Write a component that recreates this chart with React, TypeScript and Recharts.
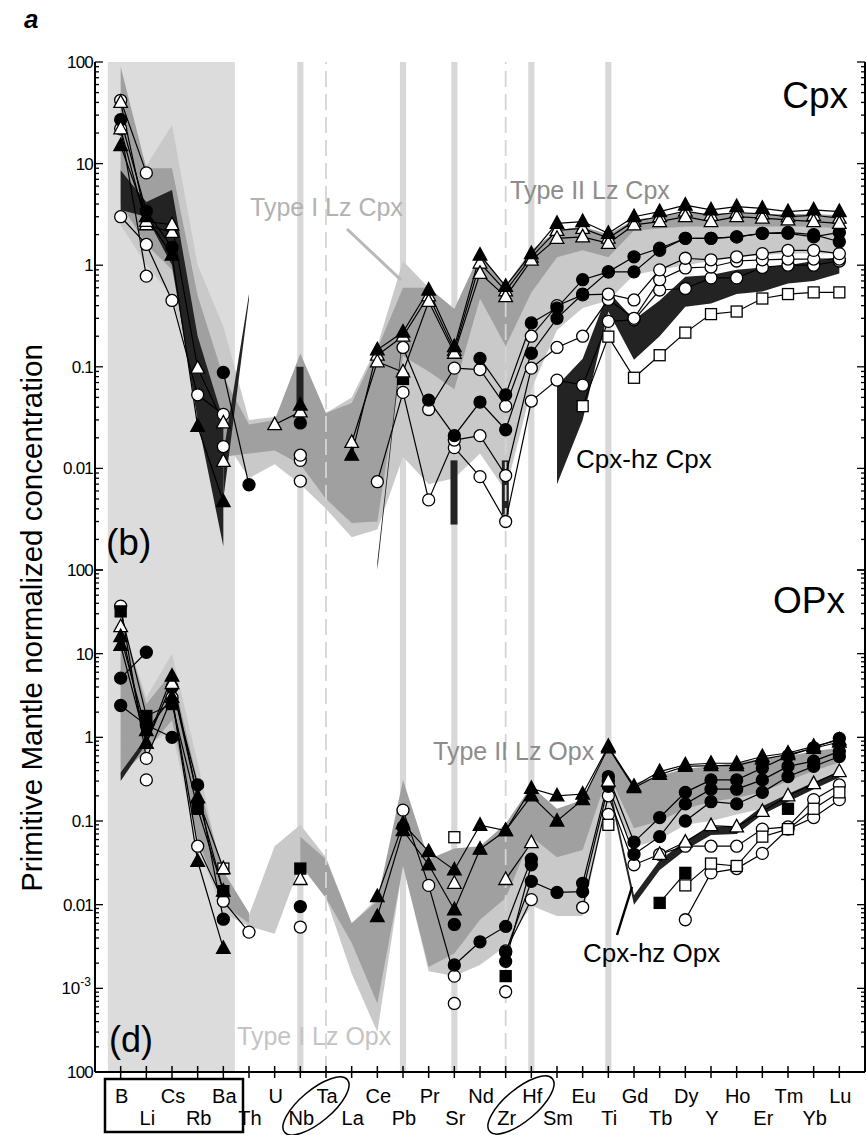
import React from 'react'
import { Area, Bar, ComposedChart, Line, ReferenceArea, ReferenceLine, XAxis, YAxis } from 'recharts'

const _ = null

const ELEMENTS = ['B', 'Li', 'Cs', 'Rb', 'Ba', 'Th', 'U', 'Nb', 'Ta', 'La', 'Ce', 'Pb', 'Pr', 'Sr', 'Nd', 'Zr', 'Hf', 'Sm', 'Eu', 'Ti', 'Gd', 'Tb', 'Dy', 'Y', 'Ho', 'Er', 'Tm', 'Yb', 'Lu']
const BAND_ELEMENTS = ['Nb', 'Pb', 'Sr', 'Hf', 'Ti']
const DASHED_ELEMENTS = ['Ta', 'Zr']

type Range = [number, number] | null
type Val = number | null

// ---- (b) Cpx panel: fields [low, high] ----
const cpxType1Field: Range[] = [[2.5, 40], [1.0, 9.5], [0.5, 24], [0.06, 1.0], [0.02, 0.25], [0.008, 0.03], [0.011, 0.032], [0.007, 0.05], [0.004, 0.035], [0.0021, 0.05], [0.0025, 0.16], [0.013, 1.1], [0.007, 0.6], [0.008, 0.37], [0.014, 1.3], [0.006, 0.63], [0.06, 1.4], [0.23, 2.2], [0.38, 2.4], [0.45, 2.0], [0.8, 2.8], [0.9, 3.0], [1.0, 3.2], [1.1, 3.2], [1.2, 3.2], [1.25, 3.2], [1.3, 3.2], [1.3, 3.1], [1.3, 3.0]]
const cpxType2Field: Range[] = [[4, 90], [1.6, 9], [0.9, 9], [0.05, 0.5], [0.013, 0.08], [0.014, 0.027], [0.015, 0.03], [0.011, 0.135], [0.005, 0.035], [0.0029, 0.044], [0.003, 0.15], [0.128, 0.6], [0.09, 0.6], [0.06, 0.37], [0.47, 1.3], [0.16, 0.63], [0.54, 1.4], [1.2, 2.2], [1.4, 2.4], [1.2, 2.0], [2.2, 2.8], [2.3, 3.0], [2.4, 3.3], [2.4, 3.2], [2.4, 3.3], [2.4, 3.2], [2.4, 3.2], [2.4, 3.2], [2.3, 3.1]]
const cpxHzField: Range[] = [[3.5, 8.6], [3.0, 4.2], [1.0, 5.5], [0.03, 0.2], [0.0017, 0.03], _, _, _, _, _, _, _, _, _, _, _, _, [0.007, 0.065], [0.03, 0.12], [0.35, 0.55], [0.117, 0.29], [0.2, 0.45], [0.39, 0.77], [0.42, 0.8], [0.52, 0.9], [0.55, 0.95], [0.66, 1.0], [0.7, 1.1], [0.83, 1.2]]
const cpxHzSpike: Range[] = [_, _, _, _, [0.005, 0.014], [0.46, 0.52], _, _, _, _, [0.001, 0.0012], [0.2, 0.23], _, _, _, _, _, _, _, _, _, _, _, _, _, _, _, _, _]
// single-element Cpx-hz ranges drawn as short bars
const cpxHzBar: Range[] = [_, _, _, _, _, _, _, [0.04, 0.1], _, _, _, _, _, [0.0028, 0.012], _, [0.0035, 0.012], _, _, _, _, _, _, _, _, _, _, _, _, _]

// ---- (b) Cpx panel: samples ----
const cpxFilledTri: Val[] = [15, 3.0, 1.26, 0.026, 0.0047, _, _, 0.042, _, 0.0135, 0.147, 0.22, 0.57, 0.158, 1.26, 0.62, 1.3, 2.58, 2.69, 2.06, 3.0, 3.37, 3.9, 3.5, 3.77, 3.63, 3.37, 3.5, 3.37]
const cpxOpenTriA: Val[] = [40, 2.7, 2.5, 0.097, 0.028, _, 0.027, 0.036, _, 0.018, 0.112, 0.089, 0.44, 0.136, 0.83, 0.49, 1.12, 1.84, 1.9, 1.64, 2.49, 2.69, 3.0, 2.69, 3.0, 2.9, 2.79, 2.69, 2.58]
const cpxOpenTriB: Val[] = [22, 2.5, 2.1, _, 0.0117, _, _, _, _, _, 0.13, 0.2, 0.5, 0.145, 1.05, 0.56, 1.2, 2.2, 2.3, 1.85, 2.7, 3.0, 3.4, 3.1, 3.3, 3.2, 3.0, 3.1, 2.9]
const cpxFilledCircA: Val[] = [27, 3.4, 1.5, _, 0.088, 0.0069, _, 0.028, _, _, _, _, 0.047, 0.021, 0.045, 0.024, 0.136, 0.3, 0.52, 0.86, 0.86, 1.4, 1.84, 1.84, 1.9, 2.06, 2.1, 2.0, 1.7]
const cpxFilledCircB: Val[] = [_, _, _, _, _, _, _, _, _, _, _, _, _, _, 0.121, 0.053, 0.27, 0.38, 0.72, 0.86, 1.21, 1.47, 1.84, 1.84, 1.9, 2.06, 2.06, 1.9, 2.1]
const cpxOpenCircA: Val[] = [42, 8.1, _, _, _, _, _, 0.0075, _, _, _, 0.155, 0.038, 0.097, 0.094, 0.041, 0.2, 0.4, 0.51, 0.52, 0.455, 0.9, 1.17, 1.13, 1.21, 1.3, 1.4, 1.4, 1.3]
const cpxOpenCircB: Val[] = [3.0, 1.6, 0.45, 0.053, 0.034, _, _, 0.0135, _, _, 0.0074, 0.056, 0.0049, 0.019, 0.021, 0.0085, 0.097, 0.155, 0.2, 0.46, 0.3, 0.72, 0.94, 0.96, 1.1, 1.13, 1.15, 1.15, 1.15]
const cpxOpenCircC: Val[] = [22, 0.78, _, _, 0.0164, _, _, 0.012, _, _, _, _, _, 0.016, 0.0083, 0.003, 0.046, 0.074, 0.066, 0.28, 0.29, 0.57, 0.59, 0.75, 0.75, 0.95, 1.0, 1.0, 1.1]
const cpxOpenSq: Val[] = [_, _, _, _, _, _, _, _, _, _, _, _, _, _, _, _, _, _, 0.041, 0.198, 0.078, 0.13, 0.217, 0.33, 0.35, 0.47, 0.52, 0.54, 0.54]
const cpxFilledSq: Val[] = [_, _, _, _, _, _, _, _, _, _, _, 0.076, _, _, _, _, _, _, _, _, _, _, _, _, _, _, _, _, _]

// ---- (d) Opx panel: fields ----
const opxType1Field: Range[] = [[0.4, 25], [0.8, 3.0], [1.2, 10], [0.05, 0.5], [0.008, 0.02], [0.0055, 0.0075], [0.0045, 0.05], [0.03, 0.09], [0.012, 0.037], [0.0015, 0.006], [0.0003, 0.012], [0.03, 0.2], [0.0016, 0.03], [0.0014, 0.03], [0.0019, 0.04], [0.0032, 0.05], [0.0097, 0.1], [0.0073, 0.06], [0.0073, 0.08], [0.2, 0.5], [0.049, 0.1], [0.06, 0.15], [0.09, 0.2], [0.1, 0.25], [0.12, 0.3], [0.14, 0.35], [0.18, 0.4], [0.25, 0.5], [0.33, 0.55]]
const opxType2Field: Range[] = [[0.35, 28], [0.7, 2.5], [1.6, 6], [0.06, 0.3], [0.01, 0.025], [0.006, 0.008], _, [0.03, 0.065], [0.012, 0.035], [0.0035, 0.006], [0.00066, 0.011], [0.029, 0.31], [0.0018, 0.035], [0.0026, 0.047], [0.0066, 0.05], [0.012, 0.093], [0.065, 0.26], [0.037, 0.14], [0.045, 0.18], [0.37, 0.71], [0.082, 0.28], [0.1, 0.35], [0.14, 0.42], [0.17, 0.45], [0.19, 0.5], [0.22, 0.55], [0.3, 0.6], [0.4, 0.68], [0.5, 0.75]]
const opxHzField: Range[] = [[0.3, 0.38], [0.85, 1.0], _, _, _, _, _, _, _, _, _, _, _, _, _, _, _, _, _, [0.25, 0.3], [0.01, 0.013], [0.026, 0.034], [0.045, 0.058], [0.068, 0.085], [0.07, 0.088], [0.12, 0.15], [0.17, 0.21], [0.24, 0.29], [0.33, 0.39]]

// ---- (d) Opx panel: samples ----
const opxFilledTriA: Val[] = [12.6, 0.85, 5.4, 0.19, 0.0145, _, _, _, _, _, 0.0125, 0.093, 0.043, 0.026, 0.089, 0.077, 0.245, 0.2, 0.21, 0.78, 0.26, 0.39, 0.47, 0.49, 0.49, 0.59, 0.65, 0.78, 0.93]
const opxFilledTriB: Val[] = [16, 1.2, 3.0, 0.033, 0.003, _, _, _, _, _, 0.0072, 0.077, 0.03, 0.0087, 0.046, 0.077, 0.2, 0.1, 0.18, 0.75, 0.25, 0.36, 0.45, 0.46, 0.46, 0.55, 0.62, 0.74, 0.88]
const opxOpenTri: Val[] = [21, 0.85, 4.4, 0.19, 0.027, _, _, 0.02, _, _, _, _, _, 0.018, _, 0.02, 0.055, _, _, 0.3, _, 0.04, 0.056, 0.088, 0.085, 0.13, 0.2, 0.28, 0.39]
const opxFilledCircA: Val[] = [5.1, 10.4, _, _, _, _, _, _, _, _, _, 0.085, _, 0.0019, 0.0036, 0.0055, 0.035, _, _, 0.34, 0.056, 0.11, 0.22, 0.31, 0.31, 0.43, 0.6, 0.75, 0.97]
const opxFilledCircB: Val[] = [2.4, 1.4, 1.0, _, _, _, _, 0.0095, _, _, _, _, _, 0.0058, _, 0.0027, 0.019, 0.014, 0.0143, 0.26, 0.04, 0.065, 0.16, 0.24, 0.24, 0.31, 0.45, 0.52, 0.68]
const opxFilledCircC: Val[] = [_, _, 4.0, 0.27, 0.0067, _, _, _, _, _, _, _, _, _, _, 0.0021, 0.03, _, 0.018, 0.3, _, _, 0.1, 0.17, 0.16, 0.22, 0.34, 0.45, 0.59]
const opxOpenCircA: Val[] = [37, 0.56, 3.0, 0.05, 0.011, 0.0047, _, 0.0054, _, _, _, 0.135, 0.017, 0.0014, _, 0.0028, 0.0115, _, 0.0093, 0.2, 0.03, 0.04, 0.05, 0.05, 0.05, 0.08, 0.085, 0.18, 0.27]
const opxOpenCircB: Val[] = [_, 0.31, _, _, _, _, _, _, _, _, _, _, _, 0.00066, _, 0.00091, _, _, _, 0.12, _, _, 0.0066, 0.024, 0.027, 0.041, 0.08, 0.11, 0.18]
const opxOpenSq: Val[] = [_, _, _, _, 0.027, _, _, _, _, _, _, _, _, 0.064, _, _, _, _, _, 0.09, _, _, 0.017, 0.031, 0.029, 0.065, 0.08, 0.14, 0.22]
const opxFilledSq: Val[] = [32, 1.8, 2.5, 0.14, 0.0145, _, _, 0.027, _, _, _, _, _, _, _, 0.0014, _, _, _, _, _, 0.0105, 0.024, _, _, _, 0.14, _, _]

const TOP_LABELS: Record<number, string> = { 2: '100', 1: '10', 0: '1', '-1': '0.1', '-2': '0.01' }
const BOTTOM_LABELS: Record<number, string> = { 2: '100', 1: '10', 0: '1', '-1': '0.1', '-2': '0.01', '-3': '10^-3', '-4': '100' }

const LIGHT = '#c9c9c9'
const MEDIUM = '#a0a0a0'
const DARK = '#232323'
const FONT = "'Liberation Sans', Arial, Helvetica, sans-serif"
const IDX = ELEMENTS.map((e, i) => i)
const AXIS = { stroke: '#000', strokeWidth: 2 }

type Marker = 'circleOpen' | 'circleFilled' | 'triOpen' | 'triFilled' | 'sqOpen' | 'sqFilled'
interface SeriesDef { key: string; values: Val[]; marker: Marker }
interface FieldDef { key: string; values: Range[]; fill: string }

function logTicks(minExp: number, maxExp: number) {
  const t: number[] = []
  for (let e = minExp; e < maxExp; e++) for (let m = 1; m < 10; m++) t.push(m * Math.pow(10, e))
  t.push(Math.pow(10, maxExp))
  return t
}

function makeDot(kind: Marker) {
  return (p: any) => {
    const { cx, cy, value, index } = p
    if (value == null || cy == null || Number.isNaN(cy)) return <g key={index} />
    const open = kind.endsWith('Open')
    const fill = open ? '#fff' : '#000'
    if (kind.startsWith('circle')) return <circle key={index} cx={cx} cy={cy} r={6} fill={fill} stroke="#000" strokeWidth={1.3} />
    if (kind.startsWith('tri')) return <polygon key={index} points={`${cx},${cy - 7.5} ${cx - 6.8},${cy + 5} ${cx + 6.8},${cy + 5}`} fill={fill} stroke="#000" strokeWidth={1.3} />
    return <rect key={index} x={cx - 5.5} y={cy - 5.5} width={11} height={11} fill={fill} stroke="#000" strokeWidth={1.3} />
  }
}

function makeLeftTick(labels: Record<number, string>) {
  return (p: any) => {
    const { x, y, payload } = p
    const e = Math.log10(payload.value)
    const major = Math.abs(e - Math.round(e)) < 1e-6
    const lab = major ? labels[Math.round(e)] : undefined
    return (
      <g>
        <line x1={x} x2={x + (major ? 8 : 4)} y1={y} y2={y} stroke="#000" strokeWidth={1.3} />
        {lab === '10^-3' ? (
          <text x={x - 4} y={y + 6} textAnchor="end" fontSize={17} fontFamily={FONT} fill="#000">
            10<tspan dy={-8} fontSize={12}>-3</tspan>
          </text>
        ) : lab ? (
          <text x={x - 2} y={y + 6} textAnchor="end" fontSize={17} fontFamily={FONT} fill="#000" letterSpacing={-0.8}>{lab}</text>
        ) : null}
      </g>
    )
  }
}

const rightTick = (p: any) => {
  const e = Math.log10(p.payload.value)
  const major = Math.abs(e - Math.round(e)) < 1e-6
  return <line x1={p.x} x2={p.x - (major ? 8 : 4)} y1={p.y} y2={p.y} stroke="#000" strokeWidth={1.3} />
}
const upTick = (p: any) => <line x1={p.x} x2={p.x} y1={p.y} y2={p.y - 7} stroke="#000" strokeWidth={1.5} />
const downTick = (p: any) => <line x1={p.x} x2={p.x} y1={p.y} y2={p.y + 7} stroke="#000" strokeWidth={1.5} />
const labelTick = (p: any) => {
  const i = p.payload.value
  const second = i % 2 === 1
  return (
    <g>
      <line x1={p.x} x2={p.x} y1={p.y - 6} y2={p.y + 6} stroke="#000" strokeWidth={1.5} />
      <text x={p.x + 1} y={p.y + (second ? 53 : 31)} textAnchor="middle" fontSize={20} fontFamily={FONT} fill="#000">{ELEMENTS[i]}</text>
    </g>
  )
}

interface PanelProps {
  top: number
  height: number
  marginTop: number
  xHeight: number
  minExp: number
  maxExp: number
  labels: Record<number, string>
  fields: FieldDef[]
  bars?: Range[]
  series: SeriesDef[]
  withLabels: boolean
}

function Panel({ top, height, marginTop, xHeight, minExp, maxExp, labels, fields, bars, series, withLabels }: PanelProps) {
  const rows = ELEMENTS.map((el, i) => {
    const row: Record<string, any> = { idx: i, el }
    fields.forEach((f) => { row[f.key] = f.values[i] })
    series.forEach((s) => { row[s.key] = s.values[i] })
    if (bars) row.bar = bars[i]
    return row
  })
  const yTicks = logTicks(minExp, maxExp)
  const domain = [Math.pow(10, minExp), Math.pow(10, maxExp)]
  return (
    <div style={{ position: 'absolute', left: 0, top }}>
      <ComposedChart width={866} height={height} data={rows} margin={{ top: marginTop, right: 0, bottom: withLabels ? 0 : 5, left: 0 }}>
        <XAxis xAxisId="x" dataKey="idx" type="number" domain={[-1, 29]} allowDataOverflow ticks={IDX} interval={0} orientation="bottom" height={xHeight} tickSize={0} tickMargin={0} axisLine={AXIS} tickLine={false} tick={withLabels ? labelTick : upTick} />
        <XAxis xAxisId="xt" dataKey="idx" type="number" domain={[-1, 29]} allowDataOverflow ticks={IDX} interval={0} orientation="top" height={0} tickSize={0} tickMargin={0} axisLine={AXIS} tickLine={false} tick={downTick} />
        <YAxis yAxisId="y" type="number" scale="log" domain={domain} allowDataOverflow ticks={yTicks} interval={0} width={95} tickSize={0} tickMargin={0} axisLine={AXIS} tickLine={false} tick={makeLeftTick(labels)} />
        <YAxis yAxisId="yr" orientation="right" type="number" scale="log" domain={domain} allowDataOverflow ticks={yTicks} interval={0} width={1} tickSize={0} tickMargin={0} axisLine={AXIS} tickLine={false} tick={rightTick} />
        <ReferenceArea xAxisId="x" yAxisId="y" x1={-0.5} x2={4.45} fill="#dcdcdc" fillOpacity={1} stroke="none" />
        {BAND_ELEMENTS.map((el) => {
          const i = ELEMENTS.indexOf(el)
          return <ReferenceArea key={el} xAxisId="x" yAxisId="y" x1={i - 0.12} x2={i + 0.12} fill="#d8d8d8" fillOpacity={1} stroke="none" />
        })}
        {DASHED_ELEMENTS.map((el) => (
          <ReferenceLine key={el} xAxisId="x" yAxisId="y" x={ELEMENTS.indexOf(el)} stroke="#d4d4d4" strokeWidth={1.8} strokeDasharray="16 7" />
        ))}
        {fields.map((f) => (
          <Area key={f.key} xAxisId="x" yAxisId="y" dataKey={f.key} type="linear" fill={f.fill} fillOpacity={1} stroke="none" isAnimationActive={false} activeDot={false} connectNulls={false} />
        ))}
        {bars && <Bar xAxisId="x" yAxisId="y" dataKey="bar" barSize={7} fill={DARK} isAnimationActive={false} />}
        {series.map((s) => (
          <Line key={s.key} xAxisId="x" yAxisId="y" dataKey={s.key} type="linear" stroke="#000" strokeWidth={1.2} dot={makeDot(s.marker)} activeDot={false} isAnimationActive={false} connectNulls={false} />
        ))}
      </ComposedChart>
    </div>
  )
}

const TOP_FIELDS: FieldDef[] = [
  { key: 'cpxType1Field', values: cpxType1Field, fill: LIGHT },
  { key: 'cpxType2Field', values: cpxType2Field, fill: MEDIUM },
  { key: 'cpxHzField', values: cpxHzField, fill: DARK },
  { key: 'cpxHzSpike', values: cpxHzSpike, fill: DARK },
]
const TOP_SERIES: SeriesDef[] = [
  { key: 'cpxOpenCircC', values: cpxOpenCircC, marker: 'circleOpen' },
  { key: 'cpxOpenCircB', values: cpxOpenCircB, marker: 'circleOpen' },
  { key: 'cpxOpenCircA', values: cpxOpenCircA, marker: 'circleOpen' },
  { key: 'cpxOpenSq', values: cpxOpenSq, marker: 'sqOpen' },
  { key: 'cpxFilledSq', values: cpxFilledSq, marker: 'sqFilled' },
  { key: 'cpxFilledCircA', values: cpxFilledCircA, marker: 'circleFilled' },
  { key: 'cpxFilledCircB', values: cpxFilledCircB, marker: 'circleFilled' },
  { key: 'cpxOpenTriB', values: cpxOpenTriB, marker: 'triOpen' },
  { key: 'cpxOpenTriA', values: cpxOpenTriA, marker: 'triOpen' },
  { key: 'cpxFilledTri', values: cpxFilledTri, marker: 'triFilled' },
]
const BOTTOM_FIELDS: FieldDef[] = [
  { key: 'opxType1Field', values: opxType1Field, fill: LIGHT },
  { key: 'opxType2Field', values: opxType2Field, fill: MEDIUM },
  { key: 'opxHzField', values: opxHzField, fill: DARK },
]
const BOTTOM_SERIES: SeriesDef[] = [
  { key: 'opxOpenCircB', values: opxOpenCircB, marker: 'circleOpen' },
  { key: 'opxOpenCircA', values: opxOpenCircA, marker: 'circleOpen' },
  { key: 'opxOpenSq', values: opxOpenSq, marker: 'sqOpen' },
  { key: 'opxFilledSq', values: opxFilledSq, marker: 'sqFilled' },
  { key: 'opxFilledCircC', values: opxFilledCircC, marker: 'circleFilled' },
  { key: 'opxFilledCircB', values: opxFilledCircB, marker: 'circleFilled' },
  { key: 'opxFilledCircA', values: opxFilledCircA, marker: 'circleFilled' },
  { key: 'opxOpenTri', values: opxOpenTri, marker: 'triOpen' },
  { key: 'opxFilledTriB', values: opxFilledTriB, marker: 'triFilled' },
  { key: 'opxFilledTriA', values: opxFilledTriA, marker: 'triFilled' },
]

export default function App() {
  return (
    <div style={{ position: 'absolute', left: 0, top: 0, width: 866, height: 1135, background: '#fff', fontFamily: FONT }}>
      <Panel top={0} height={575} marginTop={62} xHeight={0} minExp={-3} maxExp={2} labels={TOP_LABELS} fields={TOP_FIELDS} bars={cpxHzBar} series={TOP_SERIES} withLabels={false} />
      <Panel top={550} height={585} marginTop={20} xHeight={63} minExp={-4} maxExp={2} labels={BOTTOM_LABELS} fields={BOTTOM_FIELDS} series={BOTTOM_SERIES} withLabels />
      <svg width={866} height={1135} style={{ position: 'absolute', left: 0, top: 0, pointerEvents: 'none' }} fontFamily={FONT}>
        <text x={24} y={28} fontSize={26} fontWeight="bold" fontStyle="italic">a</text>
        <text x={42} y={618} fontSize={29.5} textAnchor="middle" transform="rotate(-90 42 618)">Primitive Mantle normalized concentration</text>
        <text x={848} y={108} fontSize={37} textAnchor="end">Cpx</text>
        <text x={845} y={613} fontSize={37} textAnchor="end">OPx</text>
        <text x={106} y={555} fontSize={37}>(b)</text>
        <text x={109} y={1052} fontSize={36}>(d)</text>
        <text x={250} y={216} fontSize={25} fill="#b2b2b2">Type I Lz Cpx</text>
        <line x1={347} y1={229} x2={401} y2={280} stroke="#b8b8b8" strokeWidth={3} />
        <text x={510} y={199} fontSize={25} fill="#8c8c8c">Type II Lz Cpx</text>
        <text x={576} y={468} fontSize={26} fill="#000">Cpx-hz Cpx</text>
        <text x={433} y={760} fontSize={25} fill="#8c8c8c">Type II Lz Opx</text>
        <text x={237} y={1045} fontSize={25} fill="#c4c4c4">Type I Lz Opx</text>
        <text x={583} y={962} fontSize={26} fill="#000">Cpx-hz Opx</text>
        <line x1={617} y1={935} x2={632} y2={887} stroke="#000" strokeWidth={2.5} />
        <rect x={105} y={1079} width={138} height={53} fill="none" stroke="#000" strokeWidth={2.5} />
        <ellipse cx={316} cy={1106} rx={41} ry={16} fill="none" stroke="#000" strokeWidth={1.5} transform="rotate(-40 316 1106)" />
        <ellipse cx={521} cy={1105} rx={41} ry={16} fill="none" stroke="#000" strokeWidth={1.5} transform="rotate(-40 521 1105)" />
      </svg>
    </div>
  )
}
